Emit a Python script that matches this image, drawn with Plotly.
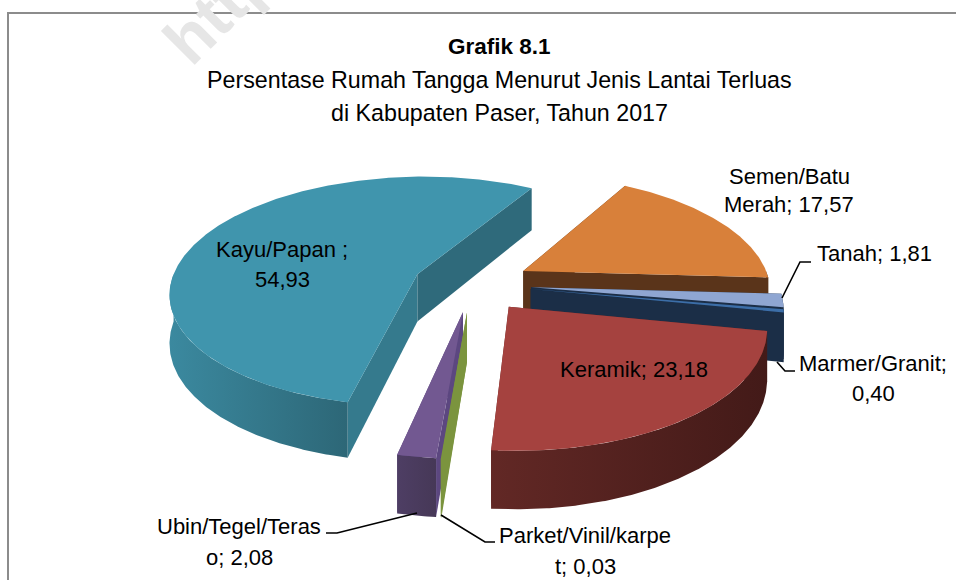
import numpy as np
import plotly.graph_objects as go

categories = ["Semen/Batu Merah", "Tanah", "Marmer/Granit", "Keramik", "Parket/Vinil/karpet", "Ubin/Tegel/Teras", "Kayu/Papan"]
values = [17.57, 1.81, 0.40, 23.18, 0.03, 2.08, 54.93]
label_lines = [["Semen/Batu", "Merah; 17,57"], ["Tanah; 1,81"], ["Marmer/Granit;", "0,40"], ["Keramik; 23,18"],
               ["Parket/Vinil/karpe", "t; 0,03"], ["Ubin/Tegel/Teras", "o; 2,08"], ["Kayu/Papan ;", "54,93"]]
label_x = [789, 874, 873, 634, 585, 239, 282]
label_y = [[176, 204], [253], [363, 393], [369], [535, 566], [526, 557], [249, 279]]
top_colors = ["#d8803a", "#8fa6d2", "#3c6ea8", "#a5423f", "#7b943e", "#725891", "#4095ad"]
outer_colors = [["#5a341a", "#5a341a"], ["#1b2e47", "#1b2e47"], ["#1b2e47", "#1b2e47"], ["#622825", "#431a18"],
                ["#7b943e", "#7b943e"], ["#4e3e64", "#463857"], ["#3b899f", "#2d6777"]]
start_wall = ["#5a341a", "#1b2e47", "#1b2e47", "#622825", "#7b943e", "#5c4780", "#357a8d"]
end_wall = ["#5a341a", "#1b2e47", "#1b2e47", "#622825", "#7b943e", "#5c4780", "#2f6a7b"]
leaders = [([782, 800, 811], [298, 262, 262]), ([777, 785, 795], [362, 371, 371]),
           ([417, 337, 326], [513, 533, 533]), ([441, 485, 495], [515, 542, 542])]
title_lines = ["<b>Grafik 8.1</b>", "Persentase Rumah Tangga Menurut Jenis Lantai Terluas", "di Kabupaten Paser, Tahun 2017"]
title_y = [46, 80, 113]
title_size = [22.5, 23.25, 23.25]

ROT, PULL, CX, CY, A, B, K, DEPTH = 30.0, 0.24, 472, 284, 247, 115, 0.15, 48
FONT = "Liberation Sans, Arial"

def proj(u, v, drop=0.0):
    s = 1 / (1 - K * v)
    return CX + A * u * s, CY + B * v * s + drop * s

fig = go.Figure()

def poly(xs, ys, color, grad=None):
    kw = dict(fillcolor=color)
    if grad:
        kw = dict(fillgradient=dict(type="horizontal", colorscale=[[0, grad[0]], [1, grad[1]]]))
    fig.add_trace(go.Scatter(x=list(xs), y=list(ys), mode="lines", fill="toself", line=dict(width=0, color=color),
                             hoverinfo="skip", showlegend=False, **kw))

# angular extents follow the values
spans = []
a0 = ROT
for val in values:
    a1 = a0 + val * 3.6
    spans.append((a0, a1))
    a0 = a1

order = [6, 0, 1, 2, 3, 5, 4]
for i in order:
    a0, a1 = spans[i]
    mid = np.radians((a0 + a1) / 2)
    pu, pv = PULL * np.sin(mid), -PULL * np.cos(mid)
    th = np.radians(np.linspace(a0, a1, max(3, int(a1 - a0) * 2)))
    us, vs = pu + np.sin(th), pv - np.cos(th)

    # radial walls
    for ang, col in ((a0, start_wall[i]), (a1, end_wall[i])):
        r = np.radians(ang)
        eu, ev = pu + np.sin(r), pv - np.cos(r)
        x1, y1 = proj(pu, pv); x2, y2 = proj(eu, ev)
        x3, y3 = proj(eu, ev, DEPTH); x4, y4 = proj(pu, pv, DEPTH)
        poly([x1, x2, x3, x4, x1], [y1, y2, y3, y4, y1], col)

    # outer wall: only the part turned towards the viewer
    lo, hi = max(a0, 90), min(a1, 270)
    if hi > lo:
        tw = np.radians(np.linspace(lo, hi, max(3, int(hi - lo) * 2)))
        wu, wv = pu + np.sin(tw), pv - np.cos(tw)
        tx, ty = proj(wu, wv); bx, by = proj(wu, wv, DEPTH)
        xs = np.r_[tx, bx[::-1], tx[0]]; ys = np.r_[ty, by[::-1], ty[0]]
        poly(xs, ys, outer_colors[i][0], outer_colors[i])

    # top face
    px, py = proj(us, vs); ax, ay = proj(pu, pv)
    poly(np.r_[ax, px, ax], np.r_[ay, py, ay], top_colors[i])

for xs, ys in leaders:
    fig.add_trace(go.Scatter(x=xs, y=ys, mode="lines", line=dict(color="black", width=1.6), hoverinfo="skip", showlegend=False))

ann = []
for lines, x, ys in zip(label_lines, label_x, label_y):
    for t, y in zip(lines, ys):
        ann.append(dict(x=x, y=y, text=t, showarrow=False, xanchor="center", yanchor="middle", font=dict(size=22, color="black", family=FONT)))
for t, y, sz in zip(title_lines, title_y, title_size):
    ann.append(dict(x=499, y=y, text=t, showarrow=False, xanchor="center", yanchor="middle", font=dict(size=sz, color="black", family=FONT)))
ann.append(dict(x=219, y=8, text="<b>http</b>", showarrow=False, textangle=-45, xanchor="center", yanchor="middle",
                font=dict(size=66, color="#e6e6e6", family="Liberation Sans")))

fig.update_layout(
    width=956, height=580, margin=dict(l=0, r=0, t=0, b=0), paper_bgcolor="white", plot_bgcolor="white",
    xaxis=dict(range=[0, 956], visible=False, fixedrange=True),
    yaxis=dict(range=[580, 0], visible=False, fixedrange=True),
    annotations=ann,
    shapes=[dict(type="rect", x0=8, y0=13, x1=1000, y1=640, line=dict(color="#8c8c8c", width=2), layer="below")],
)
fig.write_html("out.html", config={"displayModeBar": False},
               post_script="document.body.style.margin='0';document.documentElement.style.overflow='hidden';")
